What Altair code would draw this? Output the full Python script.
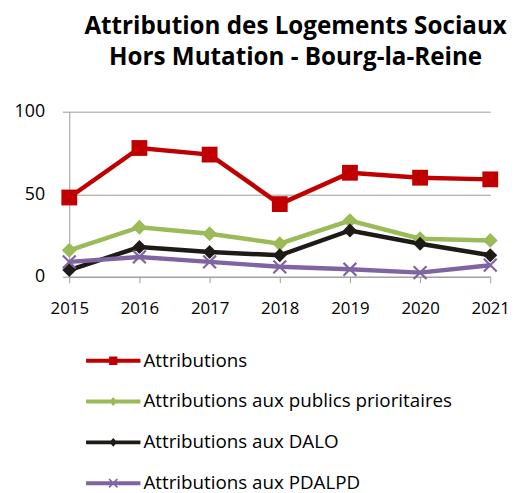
import altair as alt
import pandas as pd

years = ["2015", "2016", "2017", "2018", "2019", "2020", "2021"]
series = [
    "Attributions",
    "Attributions aux publics prioritaires",
    "Attributions aux DALO",
    "Attributions aux PDALPD",
]
attributions = [48, 78, 74, 44, 63, 60, 59]
prioritaires = [16, 30, 26, 20, 34, 23, 22]
dalo = [4, 18, 15, 13, 28, 20, 13]
pdalpd = [9, 12, 9, 6, 4.5, 2.5, 7]
colors = ["#C00000", "#9BBB59", "#1E1A16", "#8064A2"]

rows = []
for name, vals in zip(series, [attributions, prioritaires, dalo, pdalpd]):
    for y, v in zip(years, vals):
        rows.append({"annee": y, "valeur": v, "serie": name})
df = pd.DataFrame(rows)

# marker shapes for the plot
w = 0.12
x_path = (
    f"M{-1+w},{-1-w}L{1+w},{1-w}L{1-w},{1+w}L{-1-w},{-1+w}Z"
    f"M{1-w},{-1-w}L{1+w},{-1+w}L{-1+w},{1+w}L{-1-w},{1-w}Z"
)
plot_shapes = ["M-1,-1H1V1H-1Z", "M0,-1L1,0L0,1L-1,0Z", "M0,-1L1,0L0,1L-1,0Z", x_path]

# legend symbols: line + marker
L = 2.75
t = 0.2
line_p = f"M{-L},{-t}H{L}V{t}H{-L}Z"
m = 0.42
wx = 0.06
leg_x = (
    f"M{-m+wx},{-m-wx}L{m+wx},{m-wx}L{m-wx},{m+wx}L{-m-wx},{-m+wx}Z"
    f"M{m-wx},{-m-wx}L{m+wx},{-m+wx}L{-m+wx},{m+wx}L{-m-wx},{m-wx}Z"
)
legend_shapes = [
    line_p + f"M{-m},{-m}H{m}V{m}H{-m}Z",
    line_p + "M0,-0.45L0.4,0L0,0.45L-0.4,0Z",
    line_p + "M0,-0.45L0.4,0L0,0.45L-0.4,0Z",
    line_p + leg_x,
]

FONT = "Open Sans"

x_enc = alt.X(
    "annee:O",
    scale=alt.Scale(type="point", padding=0),
    axis=alt.Axis(
        title=None, labelAngle=0, labelFont=FONT, labelFontSize=17, labelColor="#000",
        domainColor="#9A9A9A", tickColor="#9A9A9A", tickSize=6, labelPadding=18,
        grid=False,
    ),
)
y_enc = alt.Y(
    "valeur:Q",
    scale=alt.Scale(domain=[0, 100], nice=False),
    axis=alt.Axis(
        title=None, values=[0, 50, 100], labelFont=FONT, labelFontSize=18,
        labelColor="#000", domainColor="#9A9A9A", tickColor="#9A9A9A", tickSize=7,
        labelPadding=18, gridColor="#9A9A9A", gridWidth=1,
    ),
)
col_scale = alt.Scale(domain=series, range=colors)

base = alt.Chart(df)

lines = base.mark_line(strokeWidth=4.5).encode(
    x=x_enc, y=y_enc,
    color=alt.Color("serie:N", scale=col_scale, legend=None),
)

points = base.mark_point(filled=True, opacity=1, strokeWidth=0).encode(
    x=x_enc, y=y_enc,
    color=alt.Color("serie:N", scale=col_scale, legend=None),
    shape=alt.Shape("serie:N", scale=alt.Scale(domain=series, range=plot_shapes), legend=None),
    size=alt.Size("serie:N", scale=alt.Scale(domain=series, range=[256, 169, 169, 169]), legend=None),
)

legend_layer = base.transform_filter("false").mark_point(
    filled=True, opacity=1, strokeWidth=0, size=400
).encode(
    x=x_enc, y=y_enc,
    color=alt.Color(
        "serie:N", scale=col_scale,
        legend=alt.Legend(
            title=None, orient="none", legendX=34.5, legendY=242, direction="vertical",
            columns=1, padding=0, symbolSize=400, symbolStrokeWidth=0,
            labelFont=FONT, labelFontSize=19, labelColor="#000", labelOffset=20.5,
            rowPadding=21.3, labelLimit=400,
        ),
    ),
    shape=alt.Shape(
        "serie:N", scale=alt.Scale(domain=series, range=legend_shapes),
    ),
)

chart = (
    alt.layer(lines, points, legend_layer)
    .resolve_scale(color="independent", shape="independent")
    .properties(
        width=426,
        height=167,
        autosize=alt.AutoSizeParams(type="none"),
        padding={"left": 62, "top": 102, "right": 23, "bottom": 222},
        background="white",
        title=alt.TitleParams(
            text=["Attribution des Logements Sociaux", "Hors Mutation -  Bourg-la-Reine"],
            font=FONT, fontSize=24.5, fontWeight="bold", color="#000",
            anchor="middle", dx=16, offset=33, lineHeight=31,
        ),
    )
    .configure_view(stroke=None)
)

chart.save("out.html", embed_options={"renderer": "svg", "actions": False})
